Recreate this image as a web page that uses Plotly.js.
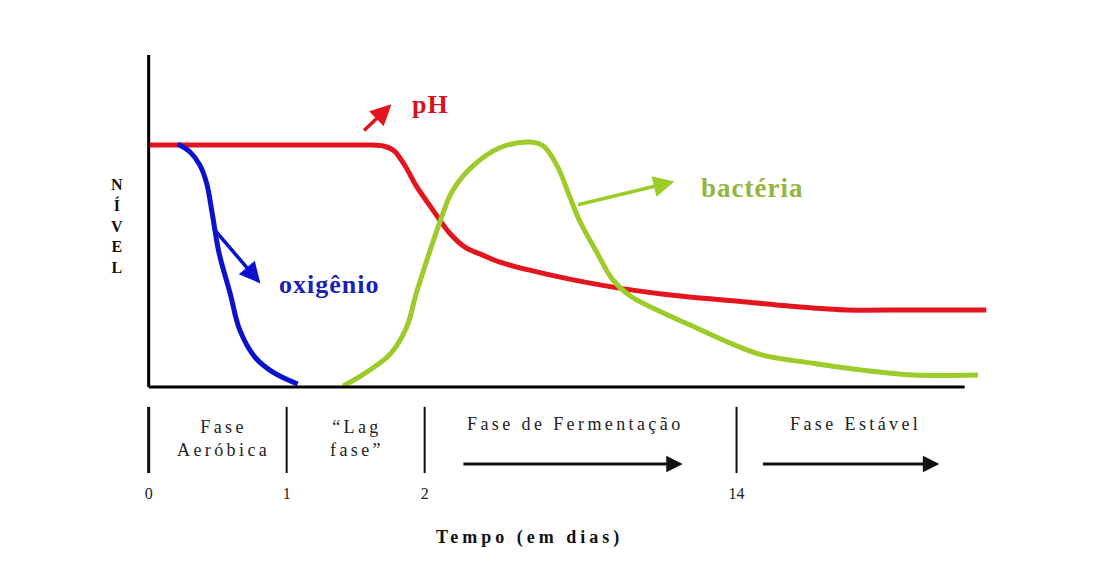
<!DOCTYPE html>
<html><head><meta charset="utf-8">
<script src="https://cdn.plot.ly/plotly-3.0.1.min.js"></script>
<style>
html,body{margin:0;padding:0;background:#fff;}
#chart{width:1108px;height:564px;}
</style>
</head><body><div id="chart"></div>
<script>
// Schematic time axis: positions 0,1,2 = days 0,1,2 ; day 14 drawn at position 4.26
const tickPos = [0, 1, 2, 4.26];
const tickLabels = ['0', '1', '2', '14'];

// pH curve (relative level)
const phX = [0, 0.5, 1.0, 1.4, 1.6, 1.70, 1.78, 1.86, 1.94, 2.06, 2.18, 2.30, 2.40, 2.54, 2.76, 3.05, 3.41, 3.85, 4.33, 4.72, 5.06, 5.5, 6.07];
const phY = [0.729, 0.729, 0.729, 0.729, 0.729, 0.726, 0.711, 0.665, 0.605, 0.533, 0.464, 0.419, 0.401, 0.377, 0.352, 0.325, 0.298, 0.274, 0.256, 0.241, 0.232, 0.232, 0.232];

// oxygen curve
const oxX = [0.21, 0.30, 0.37, 0.42, 0.46, 0.51, 0.59, 0.66, 0.77, 0.90, 1.08];
const oxY = [0.732, 0.708, 0.669, 0.614, 0.524, 0.404, 0.283, 0.172, 0.090, 0.045, 0.009];

// bacteria curve
const bacX = [1.41, 1.58, 1.75, 1.87, 1.94, 2.06, 2.11, 2.20, 2.35, 2.54, 2.76, 2.86, 2.96, 3.05, 3.12, 3.25, 3.36, 3.49, 3.73, 3.97, 4.21, 4.45, 4.81, 5.17, 5.54, 6.01];
const bacY = [0.003, 0.045, 0.099, 0.181, 0.283, 0.437, 0.497, 0.590, 0.666, 0.720, 0.738, 0.726, 0.666, 0.575, 0.503, 0.404, 0.325, 0.274, 0.223, 0.178, 0.133, 0.096, 0.072, 0.051, 0.036, 0.036];

// curve labels with pointer arrows
const curveNames = ['pH', 'oxigênio', 'bactéria'];
const curveColors = ['#e3161f', '#0c12cc', '#9ccb2a'];
const curveTextColors = ['#d8121c', '#1a1fb8', '#94b63e'];
const labelX = [2.04, 1.31, 4.37];
const labelY = [0.85, 0.308, 0.600];
const arrowTailX = [1.55, 0.46, 3.10];
const arrowTailY = [0.768, 0.482, 0.548];
const arrowHeadX = [1.76, 0.81, 3.81];
const arrowHeadY = [0.852, 0.312, 0.619];

// phases below axis
const phaseNames = [['Fase', 'Aeróbica'], ['“Lag', 'fase”'], ['Fase de Fermentação'], ['Fase Estável']];
const phaseCenters = [0.54, 1.51, 3.09, 5.12];
const phaseArrowStart = [2.27, 4.44];
const phaseArrowEnd = [3.87, 5.73];

const axisEndX = 5.913;
const serif = 'Liberation Serif, Times New Roman, serif';

const traces = [
  {x: phX, y: phY, mode: 'lines', line: {color: curveColors[0], width: 5, shape: 'spline', smoothing: 0.8}, name: curveNames[0]},
  {x: oxX, y: oxY, mode: 'lines', line: {color: curveColors[1], width: 5, shape: 'spline', smoothing: 1}, name: curveNames[1]},
  {x: bacX, y: bacY, mode: 'lines', line: {color: curveColors[2], width: 5, shape: 'spline', smoothing: 1}, name: curveNames[2]}
];

const shapes = [
  {type: 'line', xref: 'x', yref: 'y', x0: 0, x1: 0, y0: 0, y1: 1.0, line: {color: '#000', width: 3}},
  {type: 'line', xref: 'x', yref: 'y', x0: 0, x1: axisEndX, y0: 0, y1: 0, line: {color: '#000', width: 3}}
];
tickPos.forEach((p, i) => {
  shapes.push({type: 'line', xref: 'x', yref: 'paper', x0: p, x1: p, y0: -0.028, y1: -0.216,
    line: {color: '#111', width: i === 0 ? 3 : 2}});
});

const annotations = [];
curveNames.forEach((n, i) => {
  annotations.push({x: arrowHeadX[i], y: arrowHeadY[i], xref: 'x', yref: 'y', axref: 'x', ayref: 'y',
    ax: arrowTailX[i], ay: arrowTailY[i], text: '', showarrow: true, arrowhead: 2, arrowsize: 1.2,
    arrowwidth: 3.5, arrowcolor: curveColors[i]});
  annotations.push({x: labelX[i], y: labelY[i], xref: 'x', yref: 'y',
    text: '<b><span style="letter-spacing:1px">' + n + '</span></b>', showarrow: false,
    font: {family: serif, size: i === 2 ? 27 : 26, color: curveTextColors[i]}, xanchor: 'center', yanchor: 'middle'});
});
phaseNames.forEach((lines, i) => {
  const txt = lines.map(l => '<span style="letter-spacing:3.4px">' + l + '</span>').join('<br>');
  annotations.push({x: phaseCenters[i], y: lines.length > 1 ? -0.117 : -0.077, xref: 'x', yref: 'paper',
    text: txt, showarrow: false, font: {family: serif, size: 18, color: '#222'}, xanchor: 'center', yanchor: 'middle'});
});
phaseArrowStart.forEach((s, i) => {
  annotations.push({x: phaseArrowEnd[i], y: -0.190, xref: 'x', yref: 'paper', axref: 'x', ayref: 'pixel',
    ax: s, ay: 0, text: '', showarrow: true, arrowhead: 2, arrowsize: 1.1, arrowwidth: 3, arrowcolor: '#111'});
});
annotations.push({x: 2.76, y: -0.398, xref: 'x', yref: 'paper', showarrow: false,
  text: '<b><span style="letter-spacing:4px">Tempo (em dias)</span></b>',
  font: {family: serif, size: 18, color: '#111'}, xanchor: 'center', yanchor: 'middle'});
annotations.push({x: -0.026, y: 0.486, xref: 'paper', yref: 'paper', showarrow: false,
  text: '<b>N<br>Í<br>V<br>E<br>L</b>', font: {family: serif, size: 16, color: '#111'}, xanchor: 'center', yanchor: 'middle'});

const layout = {
  width: 1108, height: 564,
  margin: {l: 139, r: 113, t: 45, b: 167, pad: 0},
  paper_bgcolor: '#fff', plot_bgcolor: '#fff',
  showlegend: false,
  xaxis: {range: [-0.07, 6.1329], showgrid: false, zeroline: false, showline: false, ticks: '',
    tickmode: 'array', tickvals: tickPos, ticktext: tickLabels, ticklabelstandoff: 85,
    tickfont: {family: serif, size: 16, color: '#222'}},
  yaxis: {range: [-0.03, 1.0302], showgrid: false, zeroline: false, showline: false, ticks: '', showticklabels: false},
  shapes: shapes,
  annotations: annotations
};

Plotly.newPlot('chart', traces, layout, {staticPlot: true, displayModeBar: false});
</script>
</body></html>
